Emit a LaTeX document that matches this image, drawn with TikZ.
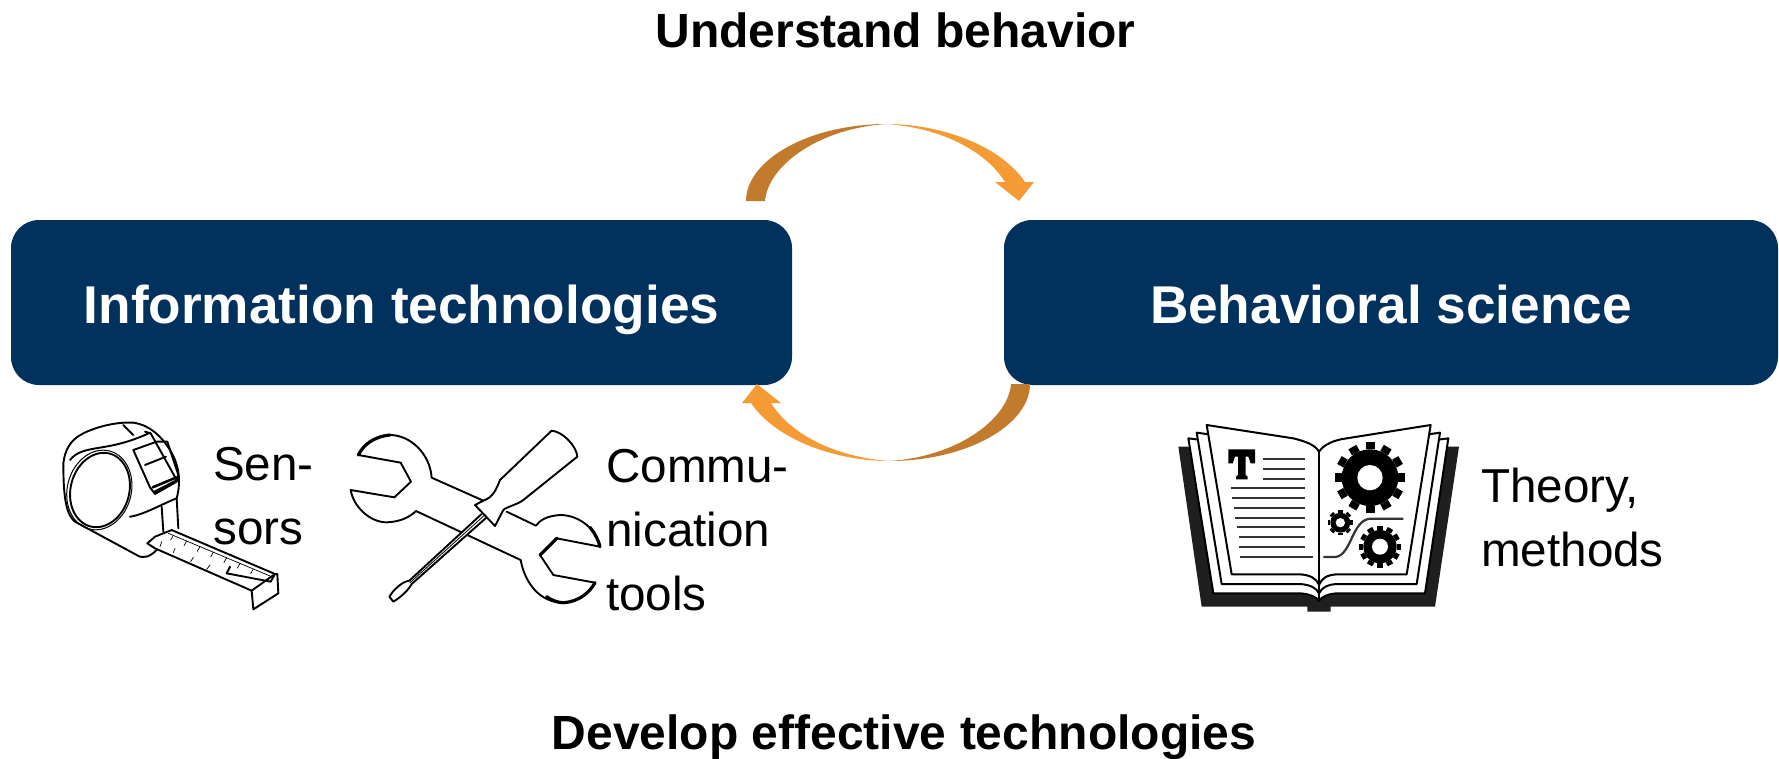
\documentclass[tikz,border=0pt]{standalone}
\usepackage{fontspec}
\setmainfont{Liberation Sans}
\usetikzlibrary{calc}
\definecolor{navy}{HTML}{01325D}
\definecolor{ordark}{HTML}{C27B2C}
\definecolor{orlight}{HTML}{F49B36}
\tikzset{
  box/.style={fill=navy,rounded corners=28pt,minimum height=165pt,inner sep=0pt,text=white,text height=41pt,text depth=0pt,font=\fontsize{53.2}{60}\selectfont\bfseries},
  heading/.style={anchor=base,inner sep=0pt,font=\fontsize{48}{60}\selectfont\bfseries},
  label/.style={anchor=north west,inner sep=0pt,align=left,font=\fontsize{47.6}{64}\selectfont},
  ink/.style={draw=black,line width=1.9pt,line join=round,line cap=round},
  thick ink/.style={ink,line width=3.2pt},
  rule/.style={draw=black!80,line width=2.2pt},
  flipped/.style={shift={(1776,585)},xscale=-1,yscale=-1},
}
\newcommand{\gearshape}[6]{% x y root-radius tip-radius tooth-width angle-step
  \fill[black] (#1,#2) circle[radius=#3];
  \pgfmathsetmacro{\nextang}{#6}
  \foreach \a in {0,\nextang,...,359}{\draw[black,line width=#5pt] ($(#1,#2)+(\a:#3)$) -- ($(#1,#2)+(\a:#4)$);}
}
\newcommand{\cyclearrow}{%
  \fill[ordark] (746,201) .. controls (746,160) and (809,124) .. (887,124)
     .. controls (820,128) and (768,165) .. (765,201) -- cycle;
  \fill[orlight] (887,124) .. controls (940,124) and (1000,145) .. (1025,182)
     -- (1034,182) -- (1019,201) -- (995,182) -- (1005,182)
     .. controls (985,150) and (940,128) .. (887,124) -- cycle;
}
\begin{document}
\begin{tikzpicture}[x=1pt,y=-1pt]
\useasboundingbox (0,0) rectangle (1779,758);
% boxes
\node[box,minimum width=781pt] (it) at (401.5,302.5) {Information technologies};
\node[box,minimum width=774pt] (bs) at (1391,302.5) {Behavioral science};
% headings
\node[heading] (top) at (895.5,47) {Understand behavior};
\node[heading] (bottom) at (904,749) {Develop effective technologies};
% cycle arrows
\begin{scope}\cyclearrow\end{scope}
\begin{scope}[flipped]\cyclearrow\end{scope}
% labels
\node[label] (sensors) at (213,447) {Sen-\\sors};
\node[label] (comm) at (606,449) {Commu-\\nication\\tools};
\node[label] (theory) at (1481,468) {Theory,\\methods};
% tape measure
\begin{scope}[shift={(30,400)},scale=1/3]
  \path[ink] (135,365) .. controls (110,345) and (100,300) .. (100,190)
     .. controls (105,150) and (120,120) .. (160,100)
     .. controls (200,80) and (260,65) .. (310,68)
     .. controls (360,75) and (395,110) .. (420,150)
     .. controls (445,190) and (455,240) .. (440,295)
     -- (445,385);
  \path[ink] (135,365) -- (320,465) .. controls (340,478) and (360,470) .. (380,450);
  \path[ink] (120,180) .. controls (160,130) and (230,160) .. (360,98);
  \path[ink] (280,75) -- (310,105);
  \path[ink] (345,95) -- (362,100) -- (440,240);
  \path[ink,rotate around={-15:(210,270)}] (210,270) ellipse[x radius=88,y radius=113];
  \path[ink,line width=1pt,rotate around={-15:(208,270)}] (208,270) ellipse[x radius=96,y radius=121];
  \path[ink] (310,150) -- (380,125) -- (412,125) -- (445,225) -- (440,245) -- (375,282) -- (360,262) -- cycle;
  \path[ink] (345,195) -- (408,170);
  \path[ink,line width=2.6pt] (368,262) -- (440,232);
  \path[ink,line width=2.6pt] (375,275) -- (440,242);
  \path[ink] (300,350) .. controls (340,345) and (400,310) .. (440,295);
  \path[ink] (395,320) -- (400,395);
  \path[ink] (352,430) -- (375,410) -- (425,390) -- (735,522) -- (722,545) -- (590,520) ;
  \path[ink] (352,430) -- (375,445) -- (665,572) -- (735,522);
  \path[ink] (665,572) -- (670,628) -- (745,580) -- (742,522) -- (735,522);
  \path[ink,line width=.7pt] (415,400) -- (725,530);
  \foreach \t in {430,470,510,550,590,630,670}{\path[ink,line width=.7pt] (\t,{400+(\t-415)*.42}) -- ++(-8,14);}
  \path[ink,line width=.7pt] (395,425) -- (390,440);
  \path[ink,line width=.7pt] (435,445) -- (430,458);
  \path[ink,line width=.7pt] (490,472) -- (482,485);
  \path[ink,line width=.7pt] (540,495) -- (530,508);
  \path[ink] (590,520) -- (600,500);
\end{scope}
% wrench and screwdriver
\begin{scope}[shift={(330,410)},scale=1/3]
  \path[ink] (460,272) -- (305,203) .. controls (300,130) and (240,75) .. (180,75)
     .. controls (130,80) and (100,105) .. (85,135)
     -- (212,158) -- (243,215) -- (193,262) -- (62,240)
     .. controls (70,290) and (120,337) .. (170,337)
     .. controls (215,335) and (240,320) .. (258,303)
     -- (572,450)
     .. controls (585,520) and (630,578) .. (700,578)
     .. controls (750,575) and (780,545) .. (795,518)
     -- (670,495) -- (630,435) -- (680,385) -- (810,410)
     .. controls (800,360) and (750,315) .. (690,315)
     .. controls (650,318) and (630,330) .. (618,347)
     -- (530,305);
  \path[thick ink] (85,135) .. controls (100,105) and (130,80) .. (180,75);
  \path[thick ink] (650,560) .. controls (670,575) and (690,578) .. (700,578) .. controls (750,575) and (780,545) .. (795,518);
  \path[thick ink] (810,410) .. controls (805,390) and (795,370) .. (780,352);
  \path[thick ink] (630,435) -- (680,385);
  \fill[white] (455,312) -- (240,508) -- (248,525) -- (472,322) -- cycle;
  \path[ink] (665,62) .. controls (700,65) and (740,110) .. (742,140)
     -- (580,270) .. controls (560,285) and (530,290) .. (520,300)
     -- (495,348) -- (435,285) -- (460,272)
     .. controls (490,262) and (500,235) .. (510,210) -- cycle;
  \path[ink] (455,312) -- (238,512) .. controls (215,515) and (190,540) .. (178,560)
     -- (190,575) .. controls (215,560) and (235,540) .. (245,522) -- (470,322);
  \path[ink,line width=.8pt] (462,317) -- (240,518);
\end{scope}
% book
\begin{scope}[shift={(1160,410)},scale=1/3]
  \fill[black!88] (55,110) -- (125,590) -- (442,590) -- (442,605) -- (512,605) -- (512,590) -- (825,590) -- (897,110) -- (860,110) -- (477,560) -- (85,110) -- cycle;
  \foreach \lx/\rx/\ty/\bxl/\bxr/\by/\sp in {85/865/85/160/795/550/572, 110/840/68/185/770/522/550, 140/812/45/215/740/493/525}{
    \filldraw[fill=white,draw=black,line width=2pt,line join=round]
      (\lx,\ty) -- (400,{\ty+40}) .. controls (440,{\ty+50}) and (465,{\ty+60}) .. (477,{\ty+80})
      .. controls (490,{\ty+60}) and (520,{\ty+45}) .. (560,{\ty+40}) -- (\rx,\ty)
      -- (\bxr,\by) -- (530,\by) .. controls (500,{\by+2}) and (485,{\by+12}) .. (477,\sp)
      .. controls (470,{\by+12}) and (450,{\by+2}) .. (420,\by) -- (\bxl,\by) -- cycle;
  }
  \draw[black,line width=2pt] (477,125) -- (477,575);
  % T
  \fill[black] (205,118) -- (285,118) -- (285,160) -- (272,160) -- (265,140) -- (257,140) -- (257,195) -- (263,200) -- (263,208) -- (228,208) -- (228,200) -- (234,195) -- (234,140) -- (225,140) -- (218,160) -- (205,160) -- cycle;
  % text rules
  \foreach \y in {147,177,206}{\draw[rule] (308,\y) -- (435,\y);}
  \foreach \xx/\y in {212/235,217/265,222/294,226/323,231/352,236/382,238/412}{\draw[rule] (\xx,\y) -- (435,\y);}
  \draw[rule] (241,442) -- (460,442);
  \draw[rule] (490,441) -- (525,441) .. controls (575,438) and (575,328) .. (632,326) -- (730,326);
  % gears
  \gearshape{630}{203}{85}{106}{9}{30}
  \fill[white] (630,203) circle[radius=38];
  \gearshape{660}{410}{50}{63}{6}{30}
  \fill[white] (660,410) circle[radius=24];
  \gearshape{541}{338}{30}{38}{5}{45}
  \fill[white] (541,338) circle[radius=14];
\end{scope}
\end{tikzpicture}
\end{document}
